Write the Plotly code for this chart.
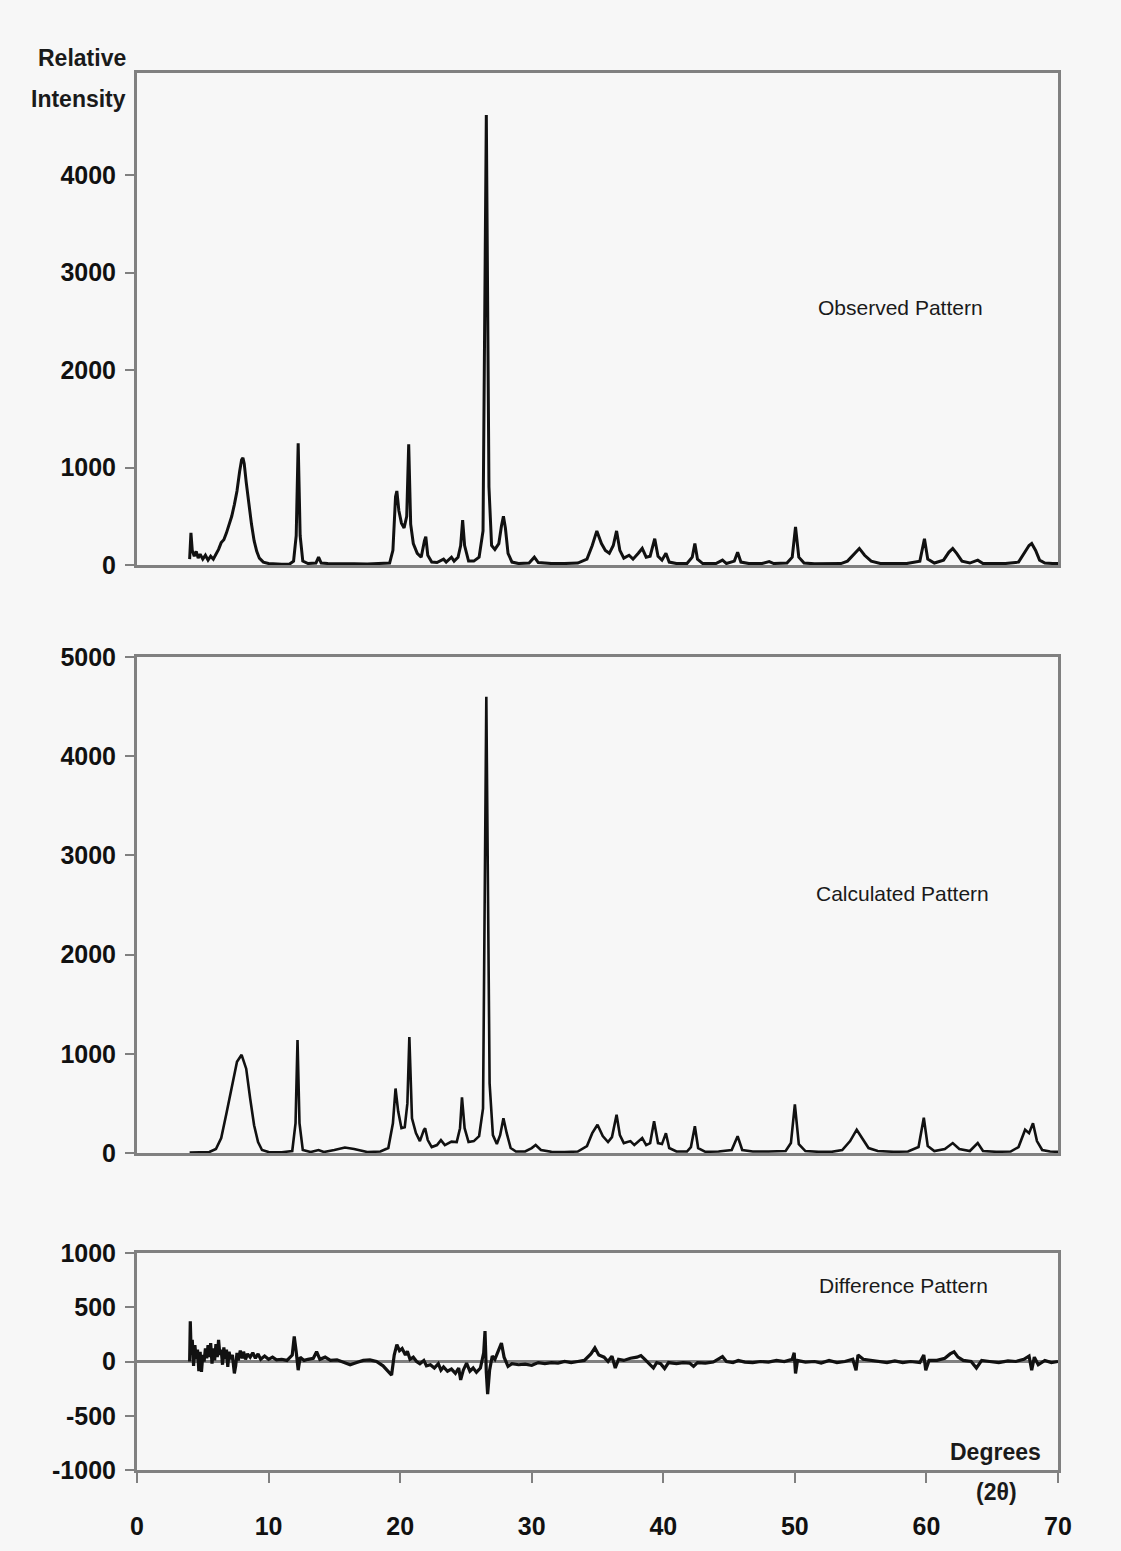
import plotly.graph_objects as go

# ---------------- data ----------------
obs_x = [4.0, 4.1, 4.2, 4.35, 4.5, 4.65, 4.8, 5.0, 5.2, 5.4, 5.6, 5.8, 6.0, 6.2, 6.4, 6.6, 6.8, 7.0, 7.2, 7.4,
         7.6, 7.8, 7.95, 8.05, 8.15, 8.3, 8.5, 8.7, 8.9, 9.1, 9.3, 9.6, 10.0, 10.5, 11.0, 11.6, 11.9, 12.1, 12.25, 12.4,
         12.6, 13.0, 13.6, 13.8, 14.0, 14.5, 15.5, 16.5, 17.5, 18.5, 19.2, 19.45, 19.65, 19.75, 19.9, 20.1, 20.3, 20.5, 20.65, 20.8,
         21.0, 21.3, 21.6, 21.85, 21.95, 22.1, 22.4, 22.8, 23.3, 23.5, 23.9, 24.1, 24.4, 24.6, 24.75, 24.9, 25.2, 25.6, 26.0, 26.3,
         26.55, 26.75, 26.95, 27.2, 27.5, 27.7, 27.85, 28.0, 28.2, 28.5, 29.0, 29.8, 30.2, 30.5, 31.5, 32.5, 33.5, 34.2, 34.6, 34.95,
         35.3, 35.6, 35.9, 36.2, 36.45, 36.7, 37.0, 37.4, 37.7, 38.1, 38.4, 38.7, 39.0, 39.35, 39.6, 39.9, 40.2, 40.45, 41.0, 41.8,
         42.2, 42.4, 42.6, 43.0, 44.0, 44.5, 44.8, 45.4, 45.65, 45.9, 46.5, 47.5, 48.05, 48.4, 49.4, 49.8, 50.05, 50.3, 50.7, 51.5,
         52.5, 53.5, 54.0, 54.5, 54.9, 55.3, 55.8, 56.5, 57.5, 58.5, 59.5, 59.85, 60.1, 60.6, 61.3, 61.7, 62.0, 62.3, 62.7, 63.3,
         63.9, 64.3, 65.0, 66.0, 67.0, 67.4, 67.8, 68.0, 68.3, 68.6, 69.0, 69.6, 70.0]
obs_y = [60, 330, 150, 90, 140, 70, 110, 60, 100, 50, 90, 60, 110, 160, 230, 260, 330, 420, 500, 620,
         760, 960, 1080, 1100, 1040, 850, 620, 420, 250, 140, 70, 30, 15, 10, 8, 10, 40, 300, 1250, 300,
         40, 15, 20, 80, 20, 15, 10, 12, 10, 12, 20, 150, 700, 760, 560, 430, 380, 500, 1240, 420,
         220, 120, 80, 250, 290, 100, 30, 25, 60, 30, 80, 40, 80, 200, 460, 200, 40, 40, 80, 350,
         4620, 800, 200, 160, 220, 400, 500, 380, 120, 30, 15, 20, 80, 25, 15, 15, 20, 60, 200, 350,
         220, 150, 120, 200, 350, 150, 70, 100, 60, 120, 170, 80, 90, 270, 90, 50, 120, 30, 15, 15,
         80, 220, 60, 15, 15, 50, 15, 40, 130, 30, 15, 15, 35, 15, 20, 80, 390, 80, 20, 12,
         12, 15, 40, 110, 170, 100, 40, 15, 12, 15, 40, 270, 60, 20, 50, 130, 170, 120, 40, 20,
         50, 15, 15, 15, 30, 120, 200, 220, 150, 50, 20, 15, 15]

calc_x = [4.0, 5.0, 5.5, 6.0, 6.4, 6.8, 7.2, 7.6, 7.95, 8.3, 8.6, 8.9, 9.2, 9.5, 10.0, 11.0, 11.8, 12.05, 12.2, 12.35,
          12.6, 13.2, 13.8, 14.2, 15.0, 15.8, 16.5, 17.5, 18.5, 19.1, 19.45, 19.65, 19.85, 20.1, 20.35, 20.55, 20.7, 20.9, 21.2, 21.5,
          21.8, 21.9, 22.1, 22.4, 22.8, 23.1, 23.4, 23.9, 24.3, 24.55, 24.7, 24.9, 25.2, 25.6, 26.0, 26.3, 26.55, 26.8, 27.05, 27.35,
          27.6, 27.85, 28.1, 28.4, 28.8, 29.5, 30.0, 30.3, 30.7, 31.5, 32.5, 33.5, 34.2, 34.6, 35.0, 35.4, 35.8, 36.1, 36.45, 36.7,
          37.0, 37.5, 37.8, 38.1, 38.4, 38.7, 39.0, 39.3, 39.6, 39.9, 40.2, 40.45, 41.0, 41.8, 42.1, 42.4, 42.65, 43.2, 44.2, 45.2,
          45.65, 46.0, 46.8, 48.0, 49.3, 49.7, 50.0, 50.3, 50.8, 51.8, 52.8, 53.6, 54.2, 54.7, 55.1, 55.6, 56.3, 57.5, 58.6, 59.4,
          59.8, 60.1, 60.6, 61.4, 62.0, 62.5, 63.3, 63.9, 64.3, 65.3, 66.4, 67.0, 67.5, 67.8, 68.1, 68.4, 68.8, 69.4, 70.0]
calc_y = [5, 5, 10, 40, 150, 400, 680, 920, 990, 850, 550, 280, 110, 30, 10, 8, 20, 300, 1140, 300,
          30, 10, 30, 10, 30, 55, 40, 10, 15, 50, 300, 650, 420, 250, 260, 500, 1170, 350, 200, 120,
          230, 250, 130, 60, 80, 130, 80, 115, 110, 250, 560, 250, 110, 120, 170, 450, 4600, 700, 180, 90,
          180, 350, 200, 50, 15, 15, 50, 80, 30, 12, 10, 15, 70, 200, 285, 170, 110, 160, 385, 180,
          100, 120, 80, 120, 150, 80, 100, 320, 100, 90, 200, 50, 15, 15, 60, 270, 50, 12, 15, 30,
          170, 30, 15, 15, 20, 100, 490, 90, 20, 12, 12, 30, 120, 235, 150, 50, 20, 12, 15, 60,
          355, 70, 20, 40, 100, 40, 20, 100, 20, 12, 15, 60, 235, 200, 300, 120, 30, 15, 12]

diff_x = [4.0, 4.05, 4.12, 4.2, 4.3, 4.4, 4.5, 4.6, 4.7, 4.8, 4.9, 5.0, 5.1, 5.2, 5.3, 5.4, 5.5, 5.6, 5.7, 5.8,
          5.9, 6.0, 6.1, 6.2, 6.3, 6.4, 6.5, 6.6, 6.7, 6.8, 6.9, 7.0, 7.1, 7.25, 7.4, 7.5, 7.6, 7.7, 7.85, 8.0,
          8.1, 8.25, 8.4, 8.6, 8.8, 9.0, 9.2, 9.4, 9.7, 10.0, 10.3, 10.6, 11.0, 11.4, 11.8, 11.95, 12.1, 12.25, 12.4, 12.7,
          13.0, 13.4, 13.65, 13.9, 14.3, 14.7, 15.2, 15.7, 16.2, 16.7, 17.2, 17.7, 18.2, 18.7, 19.1, 19.35, 19.55, 19.75, 19.95, 20.15,
          20.4, 20.55, 20.75, 21.0, 21.25, 21.5, 21.8, 22.0, 22.3, 22.6, 22.9, 23.1, 23.3, 23.6, 23.9, 24.2, 24.45, 24.6, 24.8, 25.05,
          25.3, 25.55, 25.8, 26.1, 26.35, 26.45, 26.55, 26.65, 26.8, 27.0, 27.2, 27.45, 27.7, 27.9, 28.2, 28.5, 29.0, 29.5, 30.0, 30.5,
          31.0, 31.5, 32.0, 32.5, 33.0, 33.5, 34.0, 34.5, 34.8, 35.1, 35.5, 35.8, 36.1, 36.35, 36.6, 37.0, 37.5, 38.0, 38.3, 38.6,
          38.9, 39.25, 39.5, 39.8, 40.1, 40.4, 41.0, 41.5, 42.0, 42.3, 42.6, 43.2, 43.8, 44.5, 44.8, 45.3, 45.7, 46.2, 46.8, 47.4,
          48.0, 48.6, 49.2, 49.8, 49.95, 50.05, 50.2, 50.8, 51.5, 52.0, 52.6, 53.2, 53.8, 54.4, 54.65, 54.8, 55.2, 55.8, 56.4, 57.0,
          57.6, 58.2, 58.8, 59.5, 59.8, 59.95, 60.2, 60.8, 61.4, 61.8, 62.1, 62.4, 62.8, 63.4, 63.8, 64.2, 64.8, 65.5, 66.2, 66.8,
          67.4, 67.8, 68.0, 68.2, 68.5, 69.0, 69.5, 70.0]
diff_y = [0, 370, 60, 200, -40, 150, 20, 110, -90, 90, -95, 60, 0, 120, 30, 150, 40, 170, -20, 120,
          10, 160, 40, 200, 60, 110, -30, 130, 20, 110, -50, 90, 20, 60, -110, -40, 80, 10, 100, 30,
          90, 20, 70, 40, 80, 30, 70, 20, 50, 20, 40, 15, 20, 10, 60, 230, 90, -80, 40, 10,
          20, 30, 90, 20, 40, 10, 15, -10, -30, -10, 10, 15, 0, -40, -90, -125, 60, 155, 100, 120,
          60, 95, 20, 40, 0, -20, 10, -40, -30, -60, -20, -80, -50, -90, -70, -110, -60, -170, -80, -15,
          -90, -60, -100, -60, 80, 280, -100, -300, -80, 50, 20, 90, 170, 40, -45, -20, -30, -25, -35, -10,
          -20, -10, -15, 0, -10, 0, 10, 70, 125, 60, 40, 0, 50, -60, 20, 10, 30, 40, 55, 20,
          -20, -60, -10, -20, -65, -10, -20, -10, -15, -45, -10, -15, -5, 45, 0, -10, 10, -5, -10, 0,
          -5, 10, 0, 20, 80, -110, 10, -5, 0, -15, 10, -10, 0, 20, -80, 60, 20, 10, 0, -10,
          5, -10, 0, -10, 60, -80, 10, 10, 30, 70, 90, 40, 10, 0, -60, 10, 0, -10, 5, 0,
          20, 50, -80, 40, -30, 10, -10, 0]

x_ticks = [0, 10, 20, 30, 40, 50, 60, 70]
y_ticks_obs = [0, 1000, 2000, 3000, 4000]
y_ticks_calc = [0, 1000, 2000, 3000, 4000, 5000]
y_ticks_diff = [-1000, -500, 0, 500, 1000]
y_ticktext_diff = ["-1000", "-500", "0", "500", "1000"]

# ---------------- layout helpers ----------------
W, H = 1121, 1551
def fx(px):
    return px / W
def fy(py):
    return 1 - py / H

FRAME = "#808080"
FONT = "Liberation Sans, Arial, sans-serif"
tickfont = dict(family=FONT, size=25, color="#111111", weight="bold")

fig = go.Figure()
fig.add_trace(go.Scatter(x=obs_x, y=obs_y, mode="lines", line=dict(color="#111111", width=3), xaxis="x2", yaxis="y", showlegend=False))
fig.add_trace(go.Scatter(x=calc_x, y=calc_y, mode="lines", line=dict(color="#111111", width=2.6), xaxis="x3", yaxis="y2", showlegend=False))
fig.add_trace(go.Scatter(x=diff_x, y=diff_y, mode="lines", line=dict(color="#111111", width=3.2), xaxis="x", yaxis="y3", showlegend=False))

xdom = [fx(137), fx(1058)]
common_x = dict(range=[0, 70], domain=xdom, showgrid=False, zeroline=False, showline=True,
                linecolor=FRAME, linewidth=3, mirror=True, automargin=False)
common_y = dict(showgrid=False, showline=True, linecolor=FRAME, linewidth=3, mirror=True,
                ticks="outside", ticklen=9, tickwidth=2, tickcolor=FRAME, tickfont=tickfont,
                automargin=False, ticklabelstandoff=4)

fig.update_layout(
    width=W, height=H,
    margin=dict(l=0, r=0, t=0, b=0),
    paper_bgcolor="#f7f7f7", plot_bgcolor="#f7f7f7",
    xaxis=dict(**common_x, anchor="y3", tickvals=x_ticks, ticks="outside", ticklen=10, tickwidth=2,
               tickcolor=FRAME, tickfont=tickfont, ticklabelstandoff=22),
    xaxis2=dict(**common_x, anchor="y", showticklabels=False, ticks=""),
    xaxis3=dict(**common_x, anchor="y2", showticklabels=False, ticks=""),
    yaxis=dict(**common_y, anchor="x2", domain=[fy(565), fy(73)], range=[0, 5050], tickvals=y_ticks_obs, zeroline=False),
    yaxis2=dict(**common_y, anchor="x3", domain=[fy(1153), fy(657)], range=[0, 5000], tickvals=y_ticks_calc, zeroline=False),
    yaxis3=dict(**common_y, anchor="x", domain=[fy(1470), fy(1253)], range=[-1000, 1000], tickvals=y_ticks_diff,
                ticktext=y_ticktext_diff, zeroline=True, zerolinecolor=FRAME, zerolinewidth=3),
)

ann_font = dict(family=FONT, size=21, color="#1a1a1a")
bold_font = dict(family=FONT, size=23, color="#1a1a1a")
annotations = [
    dict(text="<b>Relative</b>", x=fx(128), y=fy(58), xanchor="right", yanchor="middle", font=bold_font),
    dict(text="<b>Intensity</b>", x=fx(128), y=fy(99), xanchor="right", yanchor="middle", font=bold_font),
    dict(text="Observed Pattern", x=fx(900), y=fy(307), xanchor="center", yanchor="middle", font=ann_font),
    dict(text="Calculated Pattern", x=fx(902), y=fy(893), xanchor="center", yanchor="middle", font=ann_font),
    dict(text="Difference Pattern", x=fx(903), y=fy(1285), xanchor="center", yanchor="middle", font=ann_font),
    dict(text="<b>Degrees</b>", x=fx(995), y=fy(1452), xanchor="center", yanchor="middle", font=bold_font),
    dict(text="<b>(2θ)</b>", x=fx(996), y=fy(1492), xanchor="center", yanchor="middle", font=bold_font),
]
for a in annotations:
    a.update(xref="paper", yref="paper", showarrow=False)
fig.update_layout(annotations=annotations)

fig.write_html("out.html", config={"displayModeBar": False},
               post_script="document.body.style.margin='0';document.body.style.overflow='hidden';")
